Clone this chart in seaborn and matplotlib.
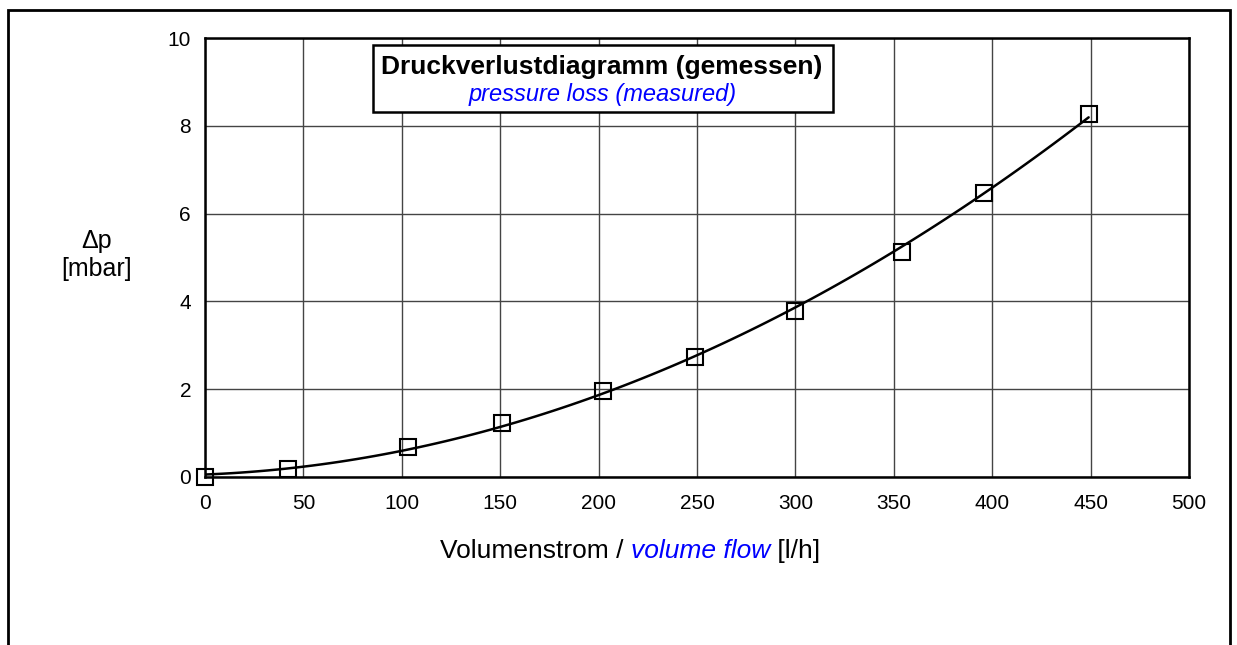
import matplotlib
matplotlib.use("Agg")
import matplotlib.pyplot as plt
from matplotlib.patches import Rectangle
import pandas as pd
import seaborn as sns

flow = [0, 42, 103, 151, 202, 249, 300, 354, 396, 449]
dp = [0.0, 0.18, 0.68, 1.23, 1.96, 2.74, 3.78, 5.13, 6.47, 8.28]
x_ticks = [0, 50, 100, 150, 200, 250, 300, 350, 400, 450, 500]
y_ticks = [0, 2, 4, 6, 8, 10]

df = pd.DataFrame({"flow": flow, "dp": dp})

sns.set_style("white")
plt.rcParams["font.family"] = ["Liberation Sans", "DejaVu Sans"]
plt.rcParams["text.color"] = "black"
plt.rcParams["xtick.color"] = "black"
plt.rcParams["ytick.color"] = "black"

fig = plt.figure(figsize=(12.37, 6.45), dpi=100)
ax = fig.add_axes([205 / 1237, 1 - 477 / 645, 984 / 1237, 439 / 645])

# trend line (2nd order polynomial fit of the measured points)
sns.regplot(data=df, x="flow", y="dp", order=2, ci=None, scatter=False,
            line_kws={"color": "black", "lw": 1.8, "zorder": 3}, ax=ax)
ax.plot(df["flow"], df["dp"], ls="none", marker="s", ms=12,
        mfc="none", mec="black", mew=1.5, zorder=4, clip_on=False)

ax.set_xlim(0, 500)
ax.set_ylim(0, 10)
ax.set_xticks(x_ticks)
ax.set_yticks(y_ticks)
ax.grid(True, color="#444444", lw=1.0)
ax.set_axisbelow(True)
ax.tick_params(axis="both", direction="out", length=5, width=1.2,
               labelsize=15, color="black", labelcolor="black", pad=5)
ax.tick_params(axis="x", pad=7)
for s in ax.spines.values():
    s.set_visible(True)
    s.set_color("black")
    s.set_linewidth(1.8)
ax.set_xlabel("")
ax.set_ylabel("")

# title box
ax.add_patch(Rectangle((0.171, 0.831), 0.467, 0.153, transform=ax.transAxes,
                       facecolor="white", edgecolor="black", lw=1.8, zorder=5))
ax.text(0.403, 0.935, "Druckverlustdiagramm (gemessen)", transform=ax.transAxes,
        ha="center", va="center", fontsize=19, fontweight="bold", zorder=6)
ax.text(0.404, 0.872, "pressure loss (measured)", transform=ax.transAxes,
        ha="center", va="center", fontsize=17, style="italic", color="#0000ff", zorder=6)

# y label
fig.text(97 / 1237, 1 - 255 / 645, "Δp\n[mbar]", ha="center", va="center",
         fontsize=18, linespacing=1.2)

# x label in three coloured parts
t1 = fig.text(440 / 1237, 1 - 563 / 645, "Volumenstrom / ", ha="left",
              va="bottom", fontsize=19)
t2 = fig.text(0, 0, "volume flow", fontsize=19, style="italic", color="#0000ff")
t3 = fig.text(0, 0, " [l/h]", fontsize=19)
fig.canvas.draw()
r = fig.canvas.get_renderer()
b1 = t1.get_window_extent(r)
t2.set_position((b1.x1 / 1237, b1.y0 / 645))
t2.set_va("bottom")
fig.canvas.draw()
b2 = t2.get_window_extent(r)
t3.set_position((b2.x1 / 1237, b1.y0 / 645))
t3.set_va("bottom")

# outer frame (open at the bottom)
fig.patches.append(Rectangle((8 / 1237, -0.2), 1222 / 1237, 1.2 - 10 / 645,
                             transform=fig.transFigure, fill=False,
                             edgecolor="black", lw=2.0, clip_on=False))

fig.savefig("out.png", dpi=100)
